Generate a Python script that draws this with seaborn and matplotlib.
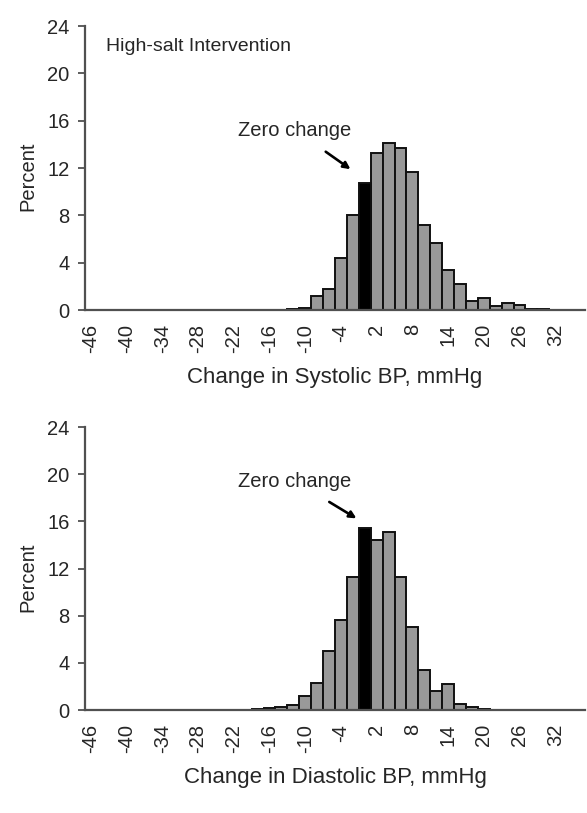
import matplotlib
matplotlib.use("Agg")
import matplotlib.pyplot as plt
import seaborn as sns
import pandas as pd
import numpy as np

sns.set_theme(style="white")
plt.rcParams['font.family'] = ['Liberation Sans', 'DejaVu Sans']

# Bins of 2 mmHg, from -46 to 36
categories = list(range(-46, 38, 2))
tick_labels = [str(c) for c in range(-46, 34, 6)]

systolic = [0, 0, 0, 0, 0, 0, 0, 0, 0, 0, 0, 0, 0, 0, 0, 0, 0,
            0.1, 0.2, 1.2, 1.8, 4.4, 8.0, 10.7, 13.3, 14.1, 13.7, 11.7,
            7.2, 5.7, 3.4, 2.2, 0.8, 1.0, 0.3, 0.6, 0.4, 0.1, 0.05,
            0, 0, 0]
diastolic = [0, 0, 0, 0, 0, 0, 0, 0, 0, 0, 0, 0, 0,
             0.03, 0.07, 0.13, 0.24, 0.46, 1.2, 2.3, 5.0, 7.6, 11.3,
             15.4, 14.4, 15.1, 11.3, 7.0, 3.4, 1.6, 2.2, 0.5, 0.24, 0.07,
             0, 0.04, 0, 0.04, 0, 0, 0, 0]

xlabels = ["Change in Systolic BP, mmHg", "Change in Diastolic BP, mmHg"]
yticks = [0, 4, 8, 12, 16, 20, 24]

fig = plt.figure(figsize=(5.87, 8.13), dpi=100)
W, H = 587, 813
ax_top = fig.add_axes([85 / W, 1 - 310 / H, 500 / W, 284 / H])
ax_bot = fig.add_axes([85 / W, 1 - 710 / H, 500 / W, 283 / H])

GRAY = "#999999"
AX = "#505050"
TXT = "#262626"

for ax, vals, xl in [(ax_top, systolic, xlabels[0]), (ax_bot, diastolic, xlabels[1])]:
    df = pd.DataFrame({"cat": [str(c) for c in categories], "pct": vals,
                       "zero": ["zero" if c == 0 else "other" for c in categories]})
    sns.barplot(data=df, x="cat", y="pct", hue="zero", order=df["cat"].tolist(),
                palette={"other": GRAY, "zero": "black"}, dodge=False,
                width=1.0, edgecolor="#111111", linewidth=1.4, saturation=1,
                legend=False, ax=ax)
    n = len(categories)
    ax.set_xlim(-0.5, n - 0.5)
    ax.set_ylim(0, 24)
    ax.set_yticks(yticks)
    ax.set_yticklabels([str(v) for v in yticks], fontsize=14.5, color=TXT)
    major = [categories.index(int(t)) for t in tick_labels]
    ax.set_xticks(major)
    ax.set_xticklabels(tick_labels, rotation=90, fontsize=14.5, color=TXT)
    ax.set_xticks(np.arange(-0.5, n, 1.0), minor=True)
    ax.tick_params(axis="x", which="major", length=0, pad=10)
    ax.tick_params(axis="x", which="minor", length=5, width=1.3, color=AX, direction="out")
    ax.tick_params(axis="y", which="major", length=5, width=1.3, color=AX, direction="out", left=True, pad=6)
    for s in ["top", "right"]:
        ax.spines[s].set_visible(False)
    for s in ["left", "bottom"]:
        ax.spines[s].set_color(AX)
        ax.spines[s].set_linewidth(1.6)
    ax.set_ylabel("Percent", fontsize=14.5, color=TXT, labelpad=6)
    ax.yaxis.set_label_coords(-0.096, 0.47)
    ax.set_xlabel(xl, fontsize=16, color=TXT, labelpad=10)
    ax.set_facecolor("white")

ax_top.text(1.3, 22.3, "High-salt Intervention", fontsize=14, color=TXT, va="center", ha="left")
ax_top.annotate("Zero change", xy=(21.8, 11.9), xytext=(17.15, 15.2),
                fontsize=14.5, color=TXT, ha="center", va="center",
                arrowprops=dict(arrowstyle="-|>", color="black", lw=1.9,
                                shrinkA=11, shrinkB=0, mutation_scale=10))
ax_bot.annotate("Zero change", xy=(22.3, 16.25), xytext=(17.15, 19.4),
                fontsize=14.5, color=TXT, ha="center", va="center",
                arrowprops=dict(arrowstyle="-|>", color="black", lw=1.9,
                                shrinkA=11, shrinkB=0, mutation_scale=10))

fig.savefig("out.png", dpi=100, facecolor="white")
